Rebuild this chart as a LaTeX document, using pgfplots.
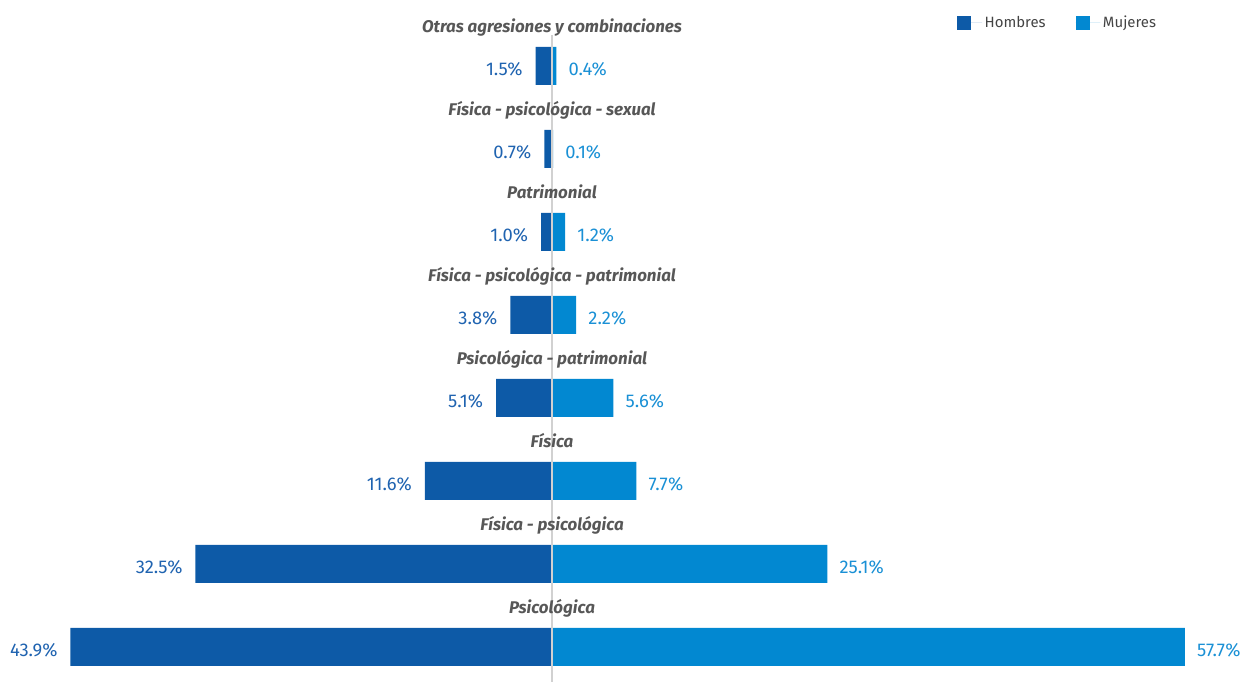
\documentclass[border=0pt]{standalone}
\usepackage{pgfplots}
\pgfplotsset{compat=1.18}
\usepackage{pgfplotstable}
\usepackage{fontspec}
\setmainfont{Fira Sans}
\definecolor{hom}{HTML}{0D5AA7}
\definecolor{muj}{HTML}{0288D1}
\definecolor{homtxt}{HTML}{1F63B0}
\definecolor{mujtxt}{HTML}{1A90D5}
\definecolor{cat}{HTML}{575757}
\definecolor{leg}{HTML}{444444}

\pgfplotstableread{
y h m
0 43.9 57.7
1 32.5 25.1
2 11.6 7.7
3 5.1 5.6
4 3.8 2.2
5 1.0 1.2
6 0.7 0.1
7 1.5 0.4
}\data

\tikzset{catlab/.style={anchor=base, inner sep=0pt, text=cat, font=\fontsize{12.7bp}{14bp}\selectfont\bfseries\itshape}}

\begin{document}
\begin{tikzpicture}
\begin{axis}[
  scale only axis, width=944.25bp, height=511.5bp,
  xmin=-50.32, xmax=64.45, ymin=-0.422, ymax=7.795,
  axis lines=none, clip=false,
  /pgf/number format/assume math mode=true,
  legend columns=2,
  legend cell align=left,
  legend image code/.code={\fill[#1] (0bp,-5.25bp) rectangle (10.5bp,5.25bp); \path (0bp,0bp) -- (18.5bp,0bp);},
  legend style={draw=none, fill=none, at={(rel axis cs:0.757,0.985)}, anchor=north west,
    font=\fontsize{11.2bp}{13bp}\selectfont, text=leg,
    /tikz/every even column/.append style={column sep=20.5bp}},
]
\addplot[xbar, bar shift=0pt, bar width=28.5bp, fill=hom, draw=none,
  point meta=\thisrow{h},
  nodes near coords={\pgfmathprintnumber[fixed,fixed zerofill,precision=1]{\pgfplotspointmeta}\%},
  every node near coord/.append style={anchor=east, inner sep=0pt, xshift=-9.5bp, yshift=-2.5bp,
    font=\fontsize{13.8bp}{15bp}\selectfont, text=homtxt}]
  table[x expr=-\thisrow{h}, y=y]{\data};
\addlegendentry{Hombres}
\addplot[xbar, bar shift=0pt, bar width=28.5bp, fill=muj, draw=none,
  point meta=\thisrow{m},
  nodes near coords={\pgfmathprintnumber[fixed,fixed zerofill,precision=1]{\pgfplotspointmeta}\%},
  every node near coord/.append style={anchor=west, inner sep=0pt, xshift=9bp, yshift=-2.5bp,
    font=\fontsize{13.8bp}{15bp}\selectfont, text=mujtxt}]
  table[x=m, y=y]{\data};
\addlegendentry{Mujeres}
\draw[color=black!18, line width=1.1bp] (axis cs:0,7.373) -- (axis cs:0,-0.422);
\node[catlab] at (axis cs:0,0.398) {Psicológica};
\node[catlab] at (axis cs:0,1.398) {Física - psicológica};
\node[catlab] at (axis cs:0,2.398) {Física};
\node[catlab] at (axis cs:0,3.398) {Psicológica - patrimonial};
\node[catlab] at (axis cs:0,4.398) {Física - psicológica - patrimonial};
\node[catlab] at (axis cs:0,5.398) {Patrimonial};
\node[catlab] at (axis cs:0,6.398) {Física - psicológica - sexual};
\node[catlab] at (axis cs:0,7.398) {Otras agresiones y combinaciones};
\path (rel axis cs:0,0) rectangle (rel axis cs:1,1);
\end{axis}
\end{tikzpicture}
\end{document}
